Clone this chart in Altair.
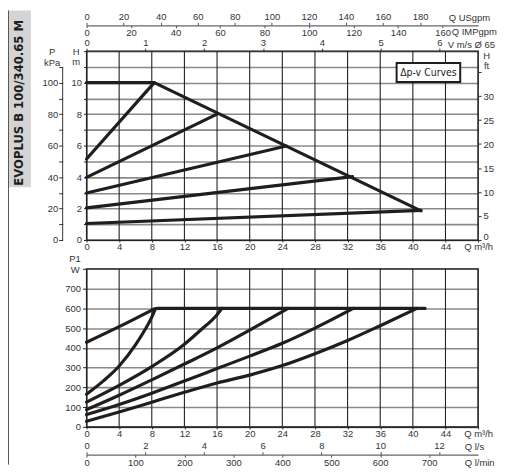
import altair as alt
import pandas as pd

# ---------------- data ----------------
# top panel: head H [m] versus flow Q [m3/h]
max_head_q = [0.0, 8.3, 41.0]
max_head_h = [10.0, 10.0, 1.85]
dpv_start_h = [5.15, 3.98, 2.99, 2.04, 1.05]
dpv_end_q = [8.3, 16.0, 24.5, 32.6, 41.0]
dpv_end_h = [10.0, 8.0, 5.97, 4.03, 1.88]

# bottom panel: input power P1 [W] versus flow Q [m3/h]
p1_max_q = [8.2, 8.7, 41.5]
p1_max_w = [595, 600, 600]
p1_a_q = [0, 4, 8.2]
p1_a_w = [428, 507, 595]
p1_b_q = [0, 2, 4, 6, 7, 8, 8.4]
p1_b_w = [165, 230, 308, 415, 480, 555, 595]
p1_c_q = [0, 4, 8, 12, 14, 16, 16.6]
p1_c_w = [125, 210, 305, 418, 490, 568, 600]
p1_d_q = [0, 4, 8, 12, 16, 20, 24.7]
p1_d_w = [87, 160, 238, 318, 400, 490, 600]
p1_e_q = [0, 4, 8, 12, 16, 20, 24, 28, 32.7]
p1_e_w = [62, 113, 170, 232, 295, 358, 423, 500, 600]
p1_f_q = [0, 4, 8, 12, 16, 20, 24, 28, 32, 36, 40.5]
p1_f_w = [28, 75, 125, 175, 222, 262, 310, 370, 437, 512, 600]

q_ticks = list(range(0, 49, 4))
h_ticks = list(range(0, 13))
kpa_ticks = list(range(0, 111, 10))
ft_ticks = list(range(0, 36, 5))
usgpm_ticks = list(range(0, 181, 20))
impgpm_ticks = list(range(0, 161, 20))
vms_ticks = list(range(0, 7))
w_ticks = list(range(0, 801, 100))
ls_ticks = list(range(0, 13, 2))
lmin_ticks = list(range(0, 701, 100))

# unit conversions of the flow / head scales
Q_MAX = 48.0
H_MAX = 12.0
KPA_MAX = 120.0
KPA_AXIS_END = 110.0
W_MAX = 800.0
USGPM_PER_M3H = 4.403
IMPGPM_PER_M3H = 3.666
M3H_PER_MS = 7.21
FT_PER_M = 3.2808
LS_PER_M3H = 1 / 3.6
LMIN_PER_M3H = 1000 / 60

TITLE = "EVOPLUS B 100/340.65 M"
BOX_TEXT = "Δp-v Curves"

# ---------------- layout (pixels inside the single view) ----------------
W_VIEW = 394
TOP_Y0, TOP_Y1 = 0, 190        # head panel band
BOT_Y0, BOT_Y1 = 219, 378      # power panel band
H_VIEW = BOT_Y1

# ---------------- tables ----------------
rows = []
for q, h in zip(max_head_q, max_head_h):
    rows.append({"curve": "max", "q": q, "h": h})
for i, (h0, q1, h1) in enumerate(zip(dpv_start_h, dpv_end_q, dpv_end_h)):
    rows.append({"curve": f"dpv{i}", "q": 0.0, "h": h0})
    rows.append({"curve": f"dpv{i}", "q": q1, "h": h1})
top_df = pd.DataFrame(rows)

rows = []
for name, qs, ws in [("max", p1_max_q, p1_max_w), ("a", p1_a_q, p1_a_w),
                     ("b", p1_b_q, p1_b_w), ("c", p1_c_q, p1_c_w),
                     ("d", p1_d_q, p1_d_w), ("e", p1_e_q, p1_e_w),
                     ("f", p1_f_q, p1_f_w)]:
    for q, w in zip(qs, ws):
        rows.append({"curve": name, "q": q, "w": w})
bot_df = pd.DataFrame(rows)

one = pd.DataFrame({"k": [0]})
kpa_df = pd.DataFrame({"kpa": [0.0], "kpa2": [KPA_AXIS_END]})
qgrid_df = pd.DataFrame({"q": q_ticks})

INK = "#1e1e1e"
GRIDV = "#222222"
GRIDH = "#8a8a8a"
FONT = "Liberation Sans, Arial, sans-serif"
NARROW = "DejaVu Sans Condensed, Liberation Sans, sans-serif"
FS = 9.5

QSCALE = alt.Scale(domain=[0, Q_MAX], nice=False, zero=False)


def main_x_axis(offset):
    return alt.Axis(orient="bottom", offset=offset, values=q_ticks, grid=False,
                    labelExpr="datum.value == 48 ? 'Q m³/h' : datum.label",
                    labelOverlap=False, labelFlush=False, tickSize=2,
                    tickColor=GRIDV, domainColor=GRIDV, labelPadding=0,
                    title=None)


def ghost_x(field, domain, axis):
    df = pd.DataFrame({field: domain})
    return alt.Chart(df).mark_point(opacity=0).encode(
        x=alt.X(f"{field}:Q", scale=alt.Scale(domain=domain, nice=False, zero=False),
                axis=axis),
        y=alt.value(0))


# ---------------- vertical grid lines and panel frames ----------------
vgrid_top = alt.Chart(qgrid_df).mark_rule(color=GRIDV, strokeWidth=1.1).encode(
    x=alt.X("q:Q", scale=QSCALE, axis=None),
    y=alt.value(TOP_Y0), y2=alt.value(TOP_Y1))
vgrid_bot = alt.Chart(qgrid_df).mark_rule(color=GRIDV, strokeWidth=1.1).encode(
    x=alt.X("q:Q", scale=QSCALE, axis=None),
    y=alt.value(BOT_Y0), y2=alt.value(BOT_Y1))
frame_top = alt.Chart(one).mark_rect(fillOpacity=0, stroke=GRIDV, strokeWidth=1.2).encode(
    x=alt.value(0), x2=alt.value(W_VIEW), y=alt.value(TOP_Y0), y2=alt.value(TOP_Y1))
frame_bot = alt.Chart(one).mark_rect(fillOpacity=0, stroke=GRIDV, strokeWidth=1.2).encode(
    x=alt.value(0), x2=alt.value(W_VIEW), y=alt.value(BOT_Y0), y2=alt.value(BOT_Y1))

# ---------------- head panel ----------------
top_lines = alt.Chart(top_df).mark_line(
    color=INK, strokeWidth=3.2, strokeCap="round", strokeJoin="round"
).encode(
    x=alt.X("q:Q", scale=QSCALE, axis=main_x_axis(TOP_Y1 - H_VIEW)),
    y=alt.Y("h:Q", scale=alt.Scale(domain=[0, H_MAX], nice=False, range=[TOP_Y1, TOP_Y0]),
            axis=alt.Axis(orient="left", values=h_ticks, grid=True, gridColor=GRIDH,
                          gridWidth=1.6,
                          labelExpr="datum.value <= 10 && datum.value % 2 == 0 ? datum.label : ''",
                          tickSize=3, tickColor=GRIDV, domainColor=GRIDV,
                          labelPadding=2,
                          title=["H", "m"], titleAngle=0, titleX=-11, titleY=0,
                          titleAlign="center", titleBaseline="middle",
                          titleFontWeight="normal", titleLineHeight=10)),
    detail="curve:N",
)

kpa_axis = alt.Chart(kpa_df).mark_rule(color="#333", strokeWidth=1).encode(
    x=alt.value(-24),
    y=alt.Y("kpa:Q", scale=alt.Scale(domain=[0, KPA_MAX], nice=False, range=[TOP_Y1, TOP_Y0]),
            axis=alt.Axis(orient="left", offset=24, values=kpa_ticks, grid=False,
                          domain=False,
                          labelExpr="datum.value % 20 == 0 && datum.value <= 100 ? datum.label : ''",
                          tickSize=4, tickColor="#333", labelPadding=1,
                          title=["P", "kPa"], titleAngle=0, titleX=-11, titleY=0,
                          titleAlign="center", titleBaseline="middle",
                          titleFontWeight="normal", titleLineHeight=11)),
    y2="kpa2:Q",
)

ft_df = pd.DataFrame({"ft": [0, H_MAX * FT_PER_M]})
ft_axis = alt.Chart(ft_df).mark_point(opacity=0).encode(
    x=alt.value(0),
    y=alt.Y("ft:Q", scale=alt.Scale(domain=[0, H_MAX * FT_PER_M], nice=False,
                                     range=[TOP_Y1, TOP_Y0]),
            axis=alt.Axis(orient="right", values=ft_ticks, grid=False,
                          labelExpr="datum.value <= 30 ? datum.label : ''",
                          labelBaseline={"condition": {"test": "datum.value == 0",
                                                       "value": "alphabetic"},
                                         "value": "middle"},
                          tickSize=3, tickColor="#333", domain=False, labelPadding=2,
                          title=["H", "ft"], titleAngle=0, titleX=8, titleY=4,
                          titleAlign="center", titleBaseline="middle",
                          titleFontWeight="normal", titleLineHeight=10)),
)

vms_axis = ghost_x(
    "vms", [0, Q_MAX / M3H_PER_MS],
    alt.Axis(orient="top", values=vms_ticks, grid=False, domain=False,
             tickSize=3, tickColor="#333", labelPadding=1, labelFlush=False,
             title="V m/s Ø 65", titleX=363, titleY=-7, titleAngle=0,
             titleAlign="left", titleBaseline="middle", titleFontWeight="normal"))

usgpm_axis = ghost_x(
    "usgpm", [0, Q_MAX * USGPM_PER_M3H],
    alt.Axis(orient="top", offset=26, values=usgpm_ticks, grid=False,
             tickSize=3, tickColor="#555", domainColor="#666", domainWidth=1.3,
             labelPadding=1, labelFlush=False,
             title="Q USgpm", titleX=364, titleY=-8, titleAngle=0,
             titleAlign="left", titleBaseline="middle", titleFontWeight="normal"))

impgpm_axis = ghost_x(
    "impgpm", [0, Q_MAX * IMPGPM_PER_M3H],
    alt.Axis(orient="bottom", offset=-(H_VIEW + 26), values=impgpm_ticks, grid=False,
             tickSize=2.5, tickColor="#555", domain=False,
             labelPadding=0, labelFlush=False,
             title="Q IMPgpm", titleX=367, titleY=6, titleAngle=0,
             titleAlign="left", titleBaseline="middle", titleFontWeight="normal"))

box = alt.Chart(one).mark_rect(fill="white", stroke=INK, strokeWidth=2).encode(
    x=alt.value(312), x2=alt.value(376), y=alt.value(12), y2=alt.value(31))
box_text = alt.Chart(one).mark_text(
    text=BOX_TEXT, font=NARROW, fontSize=10.5, color=INK,
    align="center", baseline="middle").encode(x=alt.value(344), y=alt.value(22))

title_bg = alt.Chart(one).mark_rect(fill="#d4d4d4").encode(
    x=alt.value(-78), x2=alt.value(-56), y=alt.value(-41), y2=alt.value(137))
side_rule = alt.Chart(one).mark_rule(color="#555", strokeWidth=1).encode(
    x=alt.value(-78.5), y=alt.value(-41), y2=alt.value(416))
title_text = alt.Chart(one).mark_text(
    text=TITLE, font=NARROW, fontSize=13, fontWeight="bold", color=INK,
    angle=270, align="center", baseline="middle").encode(
    x=alt.value(-68), y=alt.value(52))

# ---------------- power panel ----------------
bot_lines = alt.Chart(bot_df).mark_line(
    color=INK, strokeWidth=3.2, strokeCap="round", strokeJoin="round",
    interpolate="monotone"
).encode(
    x=alt.X("q:Q", scale=QSCALE, axis=main_x_axis(0)),
    y=alt.Y("w:Q", scale=alt.Scale(domain=[0, W_MAX], nice=False, range=[BOT_Y1, BOT_Y0]),
            axis=alt.Axis(orient="left", values=w_ticks, grid=True, gridColor=GRIDH,
                          gridWidth=1.6,
                          labelExpr="datum.value < 800 ? datum.label : ''",
                          tickSize=4, tickColor=GRIDV, domainColor=GRIDV,
                          labelPadding=2,
                          title=["P1", "W"], titleAngle=0, titleX=-12,
                          titleY=BOT_Y0 - 10,
                          titleAlign="center", titleBaseline="middle",
                          titleFontWeight="normal", titleLineHeight=11)),
    detail="curve:N",
)

ls_axis = ghost_x(
    "ls", [0, Q_MAX * LS_PER_M3H],
    alt.Axis(orient="top", offset=-(H_VIEW + 28), values=ls_ticks, grid=False,
             tickSize=3, tickColor="#555", domainColor="#666", domainWidth=1.3,
             labelPadding=1, labelFlush=False,
             title="Q l/s", titleX=380, titleY=-8, titleAngle=0,
             titleAlign="left", titleBaseline="middle", titleFontWeight="normal"))

lmin_axis = ghost_x(
    "lmin", [0, Q_MAX * LMIN_PER_M3H],
    alt.Axis(orient="bottom", offset=28, values=lmin_ticks, grid=False,
             tickSize=2.5, tickColor="#555", domain=False,
             labelPadding=0, labelFlush=False,
             title="Q l/min", titleX=380, titleY=8, titleAngle=0,
             titleAlign="left", titleBaseline="middle", titleFontWeight="normal"))

chart = alt.layer(
    title_bg, side_rule, title_text,
    vgrid_top, vgrid_bot,
    top_lines, kpa_axis, ft_axis, vms_axis, usgpm_axis, impgpm_axis,
    bot_lines, ls_axis, lmin_axis,
    frame_top, frame_bot,
    box, box_text,
).resolve_scale(
    x="independent", y="independent"
).properties(
    width=W_VIEW, height=H_VIEW, padding=0
).configure_view(
    strokeWidth=0
).configure_axis(
    labelFont=FONT, labelFontSize=FS, labelColor="#333",
    titleFont=FONT, titleFontSize=FS, titleColor="#333",
)

chart.save("out.html", embed_options={"renderer": "svg", "actions": False})
